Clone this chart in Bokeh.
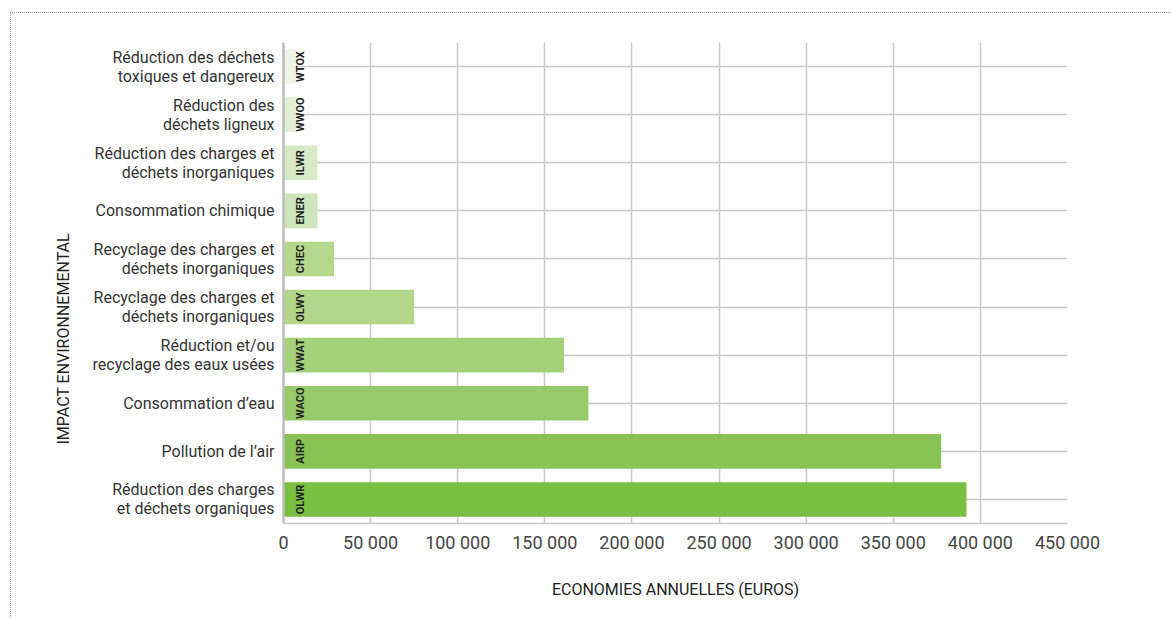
import math
from bokeh.plotting import figure
from bokeh.models import ColumnDataSource, LabelSet, Range1d, FixedTicker, Title
from bokeh.core.properties import value
from bokeh.embed import file_html
from bokeh.resources import INLINE

# ---- data (bottom to top) ----
codes = ["OLWR", "AIRP", "WACO", "WWAT", "OLWY", "CHEC", "ENER", "ILWR", "WWOO", "WTOX"]
categories = [
    "Réduction des charges\net déchets organiques",
    "Pollution de l’air",
    "Consommation d’eau",
    "Réduction et/ou\nrecyclage des eaux usées",
    "Recyclage des charges et\ndéchets inorganiques",
    "Recyclage des charges et\ndéchets inorganiques",
    "Consommation chimique",
    "Réduction des charges et\ndéchets inorganiques",
    "Réduction des\ndéchets ligneux",
    "Réduction des déchets\ntoxiques et dangereux",
]
savings = [392000, 377500, 175000, 161000, 75000, 29000, 19500, 19500, 7000, 7000]
colors = ["#79bf42", "#88c455", "#97cb69", "#a4d27b", "#b2d78a", "#b4d98d",
          "#cde6bc", "#d6eac6", "#e0efd5", "#eef5e6"]
x_ticks = [0, 50000, 100000, 150000, 200000, 250000, 300000, 350000, 400000, 450000]
x_tick_labels = ["0", "50 000", "100 000", "150 000", "200 000", "250 000",
                 "300 000", "350 000", "400 000", "450 000"]
x_title = "ECONOMIES ANNUELLES (EUROS)"
y_title = "IMPACT ENVIRONNEMENTAL"

FONT = "Roboto"
MX, MY = 10, 12                       # outer offset of the dotted frame
W, H = 1171 - MX, 618 - MY
LEFT, RIGHT, TOP, BOTTOM = 283 - MX - 1, 105, 42 - MY - 1, 96
XMAX = 450000
PX = XMAX / (W - LEFT - RIGHT)          # data units per pixel (x)
NCAT = len(codes)
pos = list(range(NCAT))

p = figure(width=W, height=H, x_range=Range1d(0, XMAX), y_range=Range1d(-0.5, NCAT - 0.5),
           output_backend="svg", toolbar_location=None,
           min_border_left=LEFT, min_border_right=RIGHT,
           min_border_top=TOP, min_border_bottom=BOTTOM,
           margin=(MY, 0, 0, MX),
           styles={"border-top": "1px dotted #b0b0b0", "border-left": "1px dotted #b0b0b0"})
p.outline_line_color = None
p.background_fill_color = "white"
p.border_fill_color = "white"

# grids
p.xgrid.ticker = FixedTicker(ticks=x_ticks)
p.xgrid.grid_line_color = "#c8c8c8"
p.xgrid.grid_line_width = 1.5
p.ygrid.ticker = FixedTicker(ticks=pos)
p.ygrid.grid_line_color = "#c8c8c8"
p.ygrid.grid_line_width = 1.5

# x axis
p.xaxis.ticker = FixedTicker(ticks=x_ticks)
p.xaxis.major_label_overrides = {t: l for t, l in zip(x_ticks, x_tick_labels)}
p.xaxis.major_tick_line_color = None
p.xaxis.minor_tick_line_color = None
p.xaxis.axis_line_color = "#c8c8c8"
p.xaxis.axis_line_width = 1.5
p.xaxis.major_label_text_font = FONT
p.xaxis.major_label_text_font_size = "18px"
p.xaxis.major_label_text_color = "#444444"
p.xaxis.major_label_standoff = 2
p.xaxis.axis_label = x_title
p.xaxis.axis_label_text_font = FONT
p.xaxis.axis_label_text_font_size = "16px"
p.xaxis.axis_label_text_font_style = "normal"
p.xaxis.axis_label_text_color = "#222222"
p.xaxis.axis_label_standoff = 24

# y axis: category labels as tick labels
p.yaxis.ticker = FixedTicker(ticks=pos)
p.yaxis.major_label_overrides = {i: c for i, c in zip(pos, categories)}
p.yaxis.major_tick_line_color = None
p.yaxis.minor_tick_line_color = None
p.yaxis.major_label_text_font = FONT
p.yaxis.major_label_text_font_size = "16px"
p.yaxis.major_label_text_color = "#333333"
p.yaxis.major_label_text_line_height = 1.0
p.yaxis.major_label_standoff = 3
p.yaxis.axis_line_color = "#bdbdbd"
p.yaxis.axis_line_width = 2.5

# y title placed as a side title so that it can be offset along the axis
p.add_layout(Title(text=y_title, align="left", offset=79, standoff=33,
                   text_font=FONT, text_font_size="16px", text_font_style="normal",
                   text_color="#222222"), "left")

# bars
src = ColumnDataSource(dict(y=pos, v=savings, c=colors, code=codes, cx=[17 * PX] * NCAT))
p.hbar(y="y", left=0, right="v", height=0.72, fill_color="c", line_color=None, source=src)

# codes inside bars
p.add_layout(LabelSet(x="cx", y="y", text="code", source=src, angle=math.pi / 2,
                      text_align="center", text_baseline="middle",
                      text_font=value(FONT), text_font_size="11px",
                      text_font_style="bold", text_color="#222222"))

open("out.html", "w").write(file_html(p, INLINE))
